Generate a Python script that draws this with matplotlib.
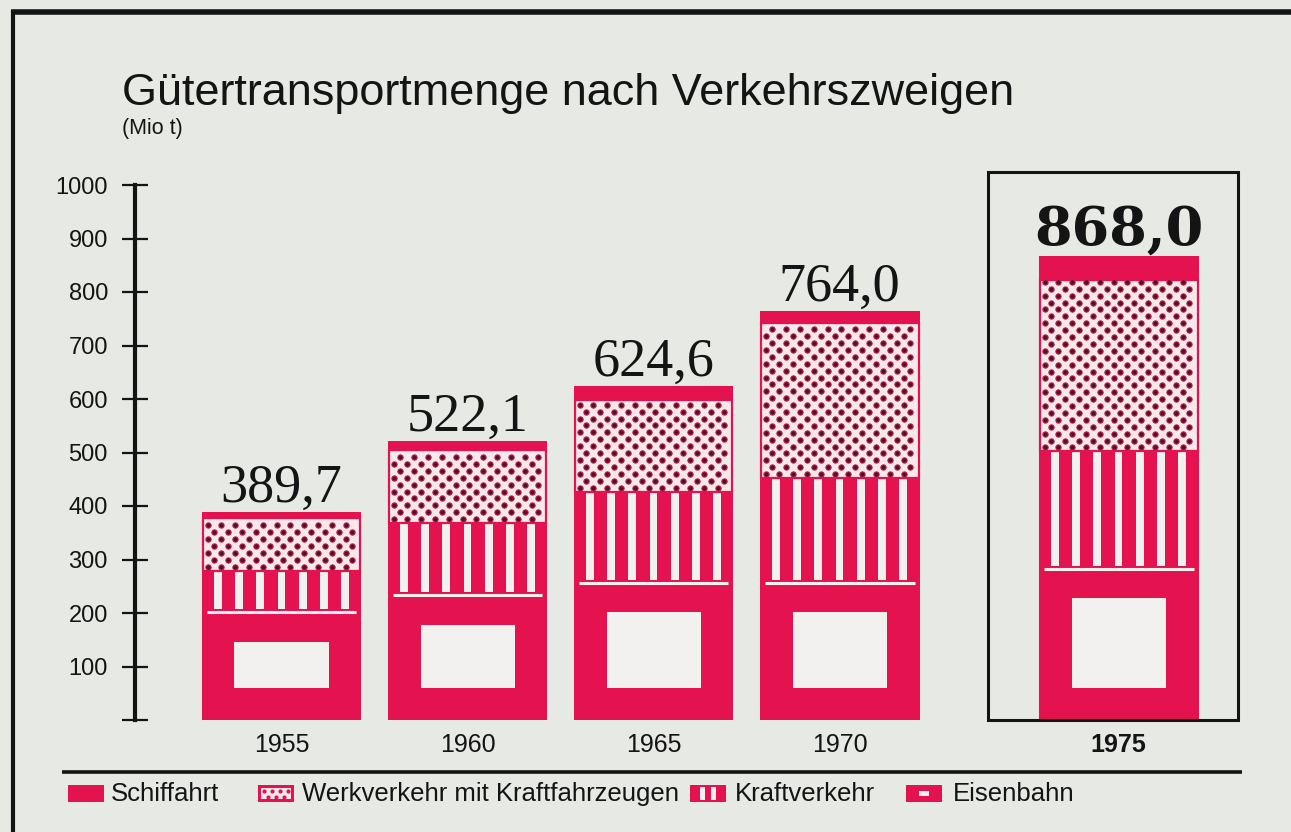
import numpy as np
import matplotlib.pyplot as plt
from matplotlib.patches import Rectangle

# Mio t per year, stacked from the bottom up
years = ['1955', '1960', '1965', '1970', '1975']
eisenbahn = [201.0, 233.0, 256.0, 256.0, 283.0]
kraftverkehr = [78.0, 135.0, 171.0, 196.0, 219.0]
werkverkehr = [99.0, 137.0, 171.0, 290.0, 321.0]
schiffahrt = [11.7, 17.1, 26.6, 22.0, 45.0]
totals = [389.7, 522.1, 624.6, 764.0, 868.0]

legend_names = ['Schiffahrt', 'Werkverkehr mit Kraftfahrzeugen', 'Kraftverkehr', 'Eisenbahn']
y_ticks = [0, 100, 200, 300, 400, 500, 600, 700, 800, 900, 1000]
y_tick_labels = [''] + [str(t) for t in y_ticks[1:]]

RED = '#e4134f'
BG = '#e7e9e4'
LIGHT = '#f3f1ef'
DOT_BG = '#f6e8eb'
DOT = '#551226'
INK = '#141414'

W, H = 1291, 832
fig = plt.figure(figsize=(W / 100, H / 100), dpi=100)
fig.patch.set_facecolor(BG)

# main axes: y axis line at x=135 px, value 0 at y=720 px, 1000 at y=185 px
ax = fig.add_axes([135 / W, (H - 720) / H, (1240 - 135) / W, (720 - 185) / H])
ax.set_facecolor('none')
ax.set_ylim(0, 1000)
ax.set_xlim(-0.7876, 5.153)

PX_X = 1 / 186          # data units per pixel, horizontal
PX_Y = 1000 / 535       # data units per pixel, vertical
BAR_W = 0.86
x_pos = np.array([0, 1, 2, 3, 4.5])

e = np.array(eisenbahn)
k = np.array(kraftverkehr)
w = np.array(werkverkehr)
s = np.array(schiffahrt)

# Eisenbahn: solid with a white window and a thin white line on top
ax.bar(x_pos, e, BAR_W, color=RED, linewidth=0)
ax.bar(x_pos, e - 55 - 60, 94 * PX_X, bottom=60, color=LIGHT, linewidth=0)
for xc, top in zip(x_pos, e):
    ax.plot([xc - BAR_W / 2 + 5 * PX_X, xc + BAR_W / 2 - 5 * PX_X], [top, top],
            color=LIGHT, lw=2.2, solid_capstyle='butt')

# Kraftverkehr: red with seven white vertical stripes
ax.bar(x_pos, k, BAR_W, bottom=e, color=RED, linewidth=0)
for xc, b, h in zip(x_pos, e, k):
    offs = (np.arange(7) - 3) * 21.2 * PX_X
    ax.bar(xc + offs, h - 4 * PX_Y, 7.7 * PX_X, bottom=b + 3 * PX_Y,
           color=LIGHT, linewidth=0)

# Werkverkehr: dotted raster
ax.bar(x_pos, w, BAR_W - 2 * PX_X, bottom=e + k, color=DOT_BG, edgecolor=RED,
       linewidth=1.6)
for xc, b, h in zip(x_pos, e + k, w):
    left = xc - BAR_W / 2 + 6 * PX_X
    right = xc + BAR_W / 2 - 4 * PX_X
    rows = np.arange(b + 4 * PX_Y, b + h - 2 * PX_Y, 6.9 * PX_Y)
    xs, ys = [], []
    for i, yy in enumerate(rows):
        cols = np.arange(left + (i % 2) * 6.9 * PX_X, right, 13.8 * PX_X)
        xs.extend(cols)
        ys.extend([yy] * len(cols))
    ax.scatter(xs, ys, s=15, color=DOT, edgecolors='#c8204f', linewidths=0.7, zorder=3)

# Schiffahrt: solid band on top
ax.bar(x_pos, s, BAR_W, bottom=e + k + w, color=RED, linewidth=0, zorder=3)

# totals above the bars
for i, (xc, tot) in enumerate(zip(x_pos, totals)):
    label = f'{tot:.1f}'.replace('.', ',')
    if i == len(totals) - 1:
        font = dict(family='DejaVu Serif', weight='bold', size=39)
    else:
        font = dict(family='Liberation Serif', size=39)
    ax.annotate(label, (xc, tot), xytext=(0, 10), textcoords='offset pixels',
                ha='center', va='baseline', color=INK, annotation_clip=False, **font)

# frame around the latest year
ax.add_patch(Rectangle((x_pos[-1] - 0.70, 0), 1.34, 1024, fill=False,
                       edgecolor=INK, linewidth=2.2, clip_on=False, zorder=4))

# axes styling
for side in ['top', 'right', 'bottom']:
    ax.spines[side].set_visible(False)
ax.spines['left'].set_linewidth(3)
ax.spines['left'].set_color(INK)
ax.spines['left'].set_bounds(0, 1000)
ax.set_yticks(y_ticks, y_tick_labels)
ax.tick_params(axis='y', direction='inout', length=19, width=1.6, color=INK,
               labelsize=17, pad=10, labelcolor=INK)
for lab in ax.get_yticklabels():
    lab.set_family('Liberation Sans')
ax.set_xticks(x_pos, years)
ax.tick_params(axis='x', length=0, pad=9, labelsize=18, labelcolor=INK)
for i, lab in enumerate(ax.get_xticklabels()):
    lab.set_family('Liberation Sans')
    if i == len(years) - 1:
        lab.set_weight('bold')

# overlay in pixel coordinates for title, frame and legend
lax = fig.add_axes([0, 0, 1, 1], zorder=5)
lax.set_xlim(0, W)
lax.set_ylim(H, 0)
lax.axis('off')
lax.patch.set_alpha(0)

lax.plot([13, 13], [10, H], color=INK, lw=3, solid_capstyle='butt')
lax.plot([11, W], [12, 12], color=INK, lw=4, solid_capstyle='butt')

lax.text(122, 105, 'Gütertransportmenge nach Verkehrszweigen', fontsize=32.4,
         family='Liberation Sans', va='baseline', color=INK)
lax.text(122, 134, '(Mio t)', fontsize=15.5, family='Liberation Sans',
         va='baseline', color=INK)

lax.plot([62, 1242], [772, 772], color=INK, lw=2.6, solid_capstyle='butt')


def legend_key(x0, kind):
    y0, kw, kh = 785, 36, 17
    lax.add_patch(Rectangle((x0, y0), kw, kh, color=RED, linewidth=0))
    if kind == 1:
        lax.add_patch(Rectangle((x0 + 3, y0 + 3), kw - 6, kh - 6, color=DOT_BG, linewidth=0))
        gx, gy = [], []
        for r, yy in enumerate([y0 + 5.5, y0 + 11.5]):
            for xx in np.arange(x0 + 6 + (r % 2) * 4, x0 + kw - 4, 8):
                gx.append(xx)
                gy.append(yy)
        lax.scatter(gx, gy, s=9, color=RED, linewidths=0)
    elif kind == 2:
        for xx in [x0 + 10, x0 + 21]:
            lax.add_patch(Rectangle((xx, y0 + 2), 5, kh - 4, color=LIGHT, linewidth=0))
    elif kind == 3:
        lax.add_patch(Rectangle((x0 + 13, y0 + 6), 10, 5, color=LIGHT, linewidth=0))


key_x = [68, 258, 690, 906]
text_x = [111, 302, 735, 953]
for i, (kx, tx, name) in enumerate(zip(key_x, text_x, legend_names)):
    legend_key(kx, i)
    lax.text(tx, 801, name, fontsize=18.5, family='Liberation Sans',
             va='baseline', color=INK)

fig.savefig('out.png', dpi=100, facecolor=BG)
